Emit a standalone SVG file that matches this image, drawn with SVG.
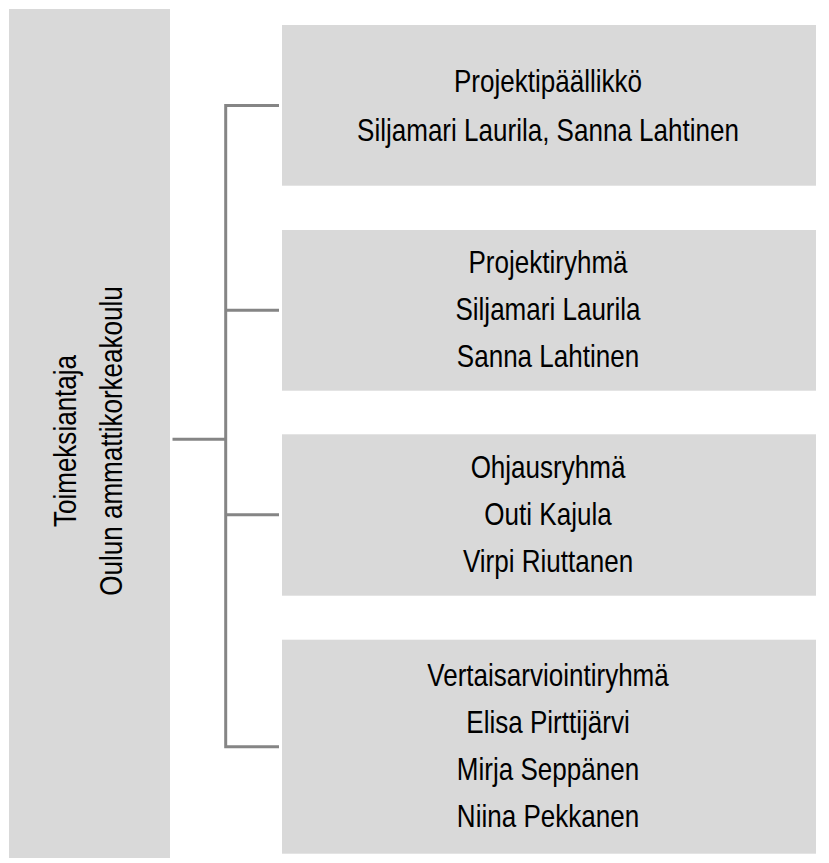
<svg xmlns="http://www.w3.org/2000/svg" width="829" height="863" viewBox="0 0 829 863">
<style>
.box{fill:#d9d9d9}
.t{font-family:"Liberation Sans",Arial,sans-serif;font-size:31px;fill:#000;text-anchor:middle}
.c{stroke:#858585;stroke-width:3;fill:none}
</style>
<rect width="829" height="863" fill="#fff"/>
<g id="connectors">
<path class="c" d="M279 105.5 H225.7 V746.7 H279"/>
<path class="c" d="M225.7 310.3 H279"/>
<path class="c" d="M225.7 514.7 H279"/>
<path class="c" d="M172.5 439.3 H225.7"/>
</g>
<g id="toimeksiantaja">
<rect class="box" x="9" y="9" width="161" height="849"/>
<text class="t" transform="translate(76,441) rotate(-90) scale(0.84,1)">Toimeksiantaja</text>
<text class="t" transform="translate(121.7,441) rotate(-90) scale(0.84,1)">Oulun ammattikorkeakoulu</text>
</g>
<g id="projektipaallikko">
<rect class="box" x="282" y="25" width="534" height="160.7"/>
<text class="t" transform="translate(548,91.7) scale(0.84,1)">Projektipäällikkö</text>
<text class="t" transform="translate(548,141) scale(0.84,1)">Siljamari Laurila, Sanna Lahtinen</text>
</g>
<g id="projektiryhma">
<rect class="box" x="282" y="230" width="534" height="160.7"/>
<text class="t" transform="translate(548,273) scale(0.84,1)">Projektiryhmä</text>
<text class="t" transform="translate(548,320) scale(0.84,1)">Siljamari Laurila</text>
<text class="t" transform="translate(548,367) scale(0.84,1)">Sanna Lahtinen</text>
</g>
<g id="ohjausryhma">
<rect class="box" x="282" y="434.3" width="534" height="161.4"/>
<text class="t" transform="translate(548,477.5) scale(0.84,1)">Ohjausryhmä</text>
<text class="t" transform="translate(548,524.5) scale(0.84,1)">Outi Kajula</text>
<text class="t" transform="translate(548,571.5) scale(0.84,1)">Virpi Riuttanen</text>
</g>
<g id="vertaisarviointiryhma">
<rect class="box" x="282" y="639.7" width="534" height="214"/>
<text class="t" transform="translate(548,686) scale(0.84,1)">Vertaisarviointiryhmä</text>
<text class="t" transform="translate(548,733) scale(0.84,1)">Elisa Pirttijärvi</text>
<text class="t" transform="translate(548,780) scale(0.84,1)">Mirja Seppänen</text>
<text class="t" transform="translate(548,827) scale(0.84,1)">Niina Pekkanen</text>
</g>
</svg>
